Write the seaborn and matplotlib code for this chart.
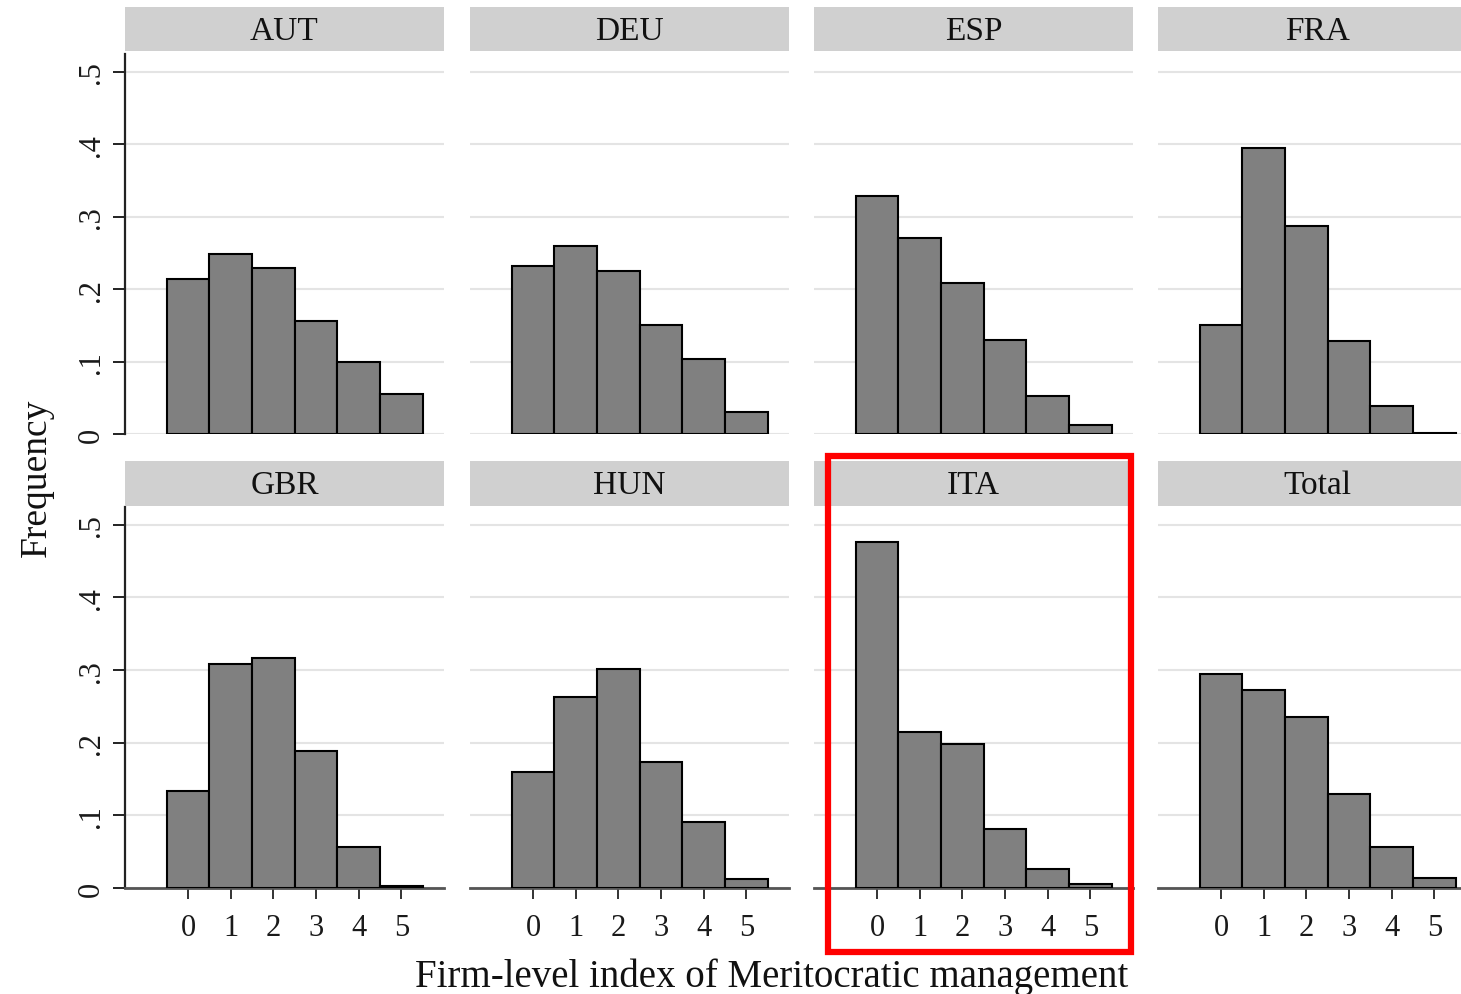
import matplotlib
matplotlib.use("Agg")
import matplotlib.pyplot as plt
from matplotlib.patches import Rectangle
import seaborn as sns

# Share of firms at each value of the meritocratic-management index
countries = ["AUT", "DEU", "ESP", "FRA", "GBR", "HUN", "ITA", "Total"]
index_values = [0, 1, 2, 3, 4, 5]
aut = [0.214, 0.248, 0.229, 0.156, 0.100, 0.055]
deu = [0.232, 0.260, 0.225, 0.150, 0.103, 0.030]
esp = [0.328, 0.270, 0.208, 0.130, 0.053, 0.013]
fra = [0.150, 0.395, 0.287, 0.129, 0.038, 0.002]
gbr = [0.133, 0.308, 0.316, 0.188, 0.057, 0.003]
hun = [0.160, 0.263, 0.301, 0.174, 0.091, 0.012]
ita = [0.477, 0.215, 0.198, 0.081, 0.026, 0.006]
total = [0.295, 0.273, 0.236, 0.130, 0.057, 0.014]
y_ticks = [0, 0.1, 0.2, 0.3, 0.4, 0.5]
y_tick_labels = ["0", ".1", ".2", ".3", ".4", ".5"]

series = [aut, deu, esp, fra, gbr, hun, ita, total]

sns.set_theme(style="white")
plt.rcParams["font.family"] = ["Liberation Serif", "DejaVu Serif"]

W, H = 1461, 995
fig = plt.figure(figsize=(W / 100, H / 100), dpi=100)
fig.patch.set_facecolor("white")

def fx(px):
    return px / W

def fy(py):
    return 1 - py / H

col_left = [125, 470, 814, 1158]
panel_w = 319
rows = [(55, 435, 8, 52), (508, 889, 462, 507)]  # axes top/bottom, strip top/bottom

for i, (name, vals) in enumerate(zip(countries, series)):
    r, c = divmod(i, 4)
    a_top, a_bot, s_top, s_bot = rows[r]
    left = col_left[c]
    ax = fig.add_axes([fx(left), fy(a_bot), panel_w / W, (a_bot - a_top) / H])
    sns.histplot(x=index_values, weights=vals, discrete=True, stat="count",
                 color="#808080", alpha=1.0, edgecolor="black", linewidth=1.5,
                 ax=ax, zorder=3)
    ax.set_xlim(-1.48, 6.0)
    ax.set_ylim(0, 0.5245)
    ax.set_xlabel("")
    ax.set_ylabel("")
    ax.set_yticks(y_ticks)
    ax.yaxis.grid(True, color="#e4e4e4", linewidth=1.5, zorder=0)
    ax.xaxis.grid(False)
    ax.set_axisbelow(True)
    for s in ["top", "right"]:
        ax.spines[s].set_visible(False)

    if c == 0:
        ax.spines["left"].set_visible(True)
        ax.spines["left"].set_color("#222222")
        ax.spines["left"].set_linewidth(1.6)
        ax.set_yticklabels(y_tick_labels, rotation=90, va="center", fontsize=22)
        ax.tick_params(axis="y", left=True, length=9, width=1.4, color="#222222",
                       pad=5, labelcolor="#1a1a1a")
    else:
        ax.spines["left"].set_visible(False)
        ax.tick_params(axis="y", left=False, labelleft=False)

    if r == 1:
        ax.spines["bottom"].set_visible(True)
        ax.spines["bottom"].set_color("#555555")
        ax.spines["bottom"].set_linewidth(2.0)
        ax.set_xticks(index_values)
        ax.set_xticklabels([str(v) for v in index_values], fontsize=22)
        ax.tick_params(axis="x", bottom=True, length=8, width=1.4, color="#333333",
                       pad=10, labelcolor="#1a1a1a")
    else:
        ax.spines["bottom"].set_visible(False)
        ax.tick_params(axis="x", bottom=False, labelbottom=False)

    # panel header strip
    sax = fig.add_axes([fx(left), fy(s_bot), panel_w / W, (s_bot - s_top) / H])
    sax.set_facecolor("#d0d0d0")
    for s in sax.spines.values():
        s.set_visible(False)
    sax.set_xticks([])
    sax.set_yticks([])
    sax.text(0.5, 0.47, name, transform=sax.transAxes, ha="center", va="center",
             fontsize=24, color="#111111")

fig.text(fx(37), fy(478), "Frequency", rotation=90, ha="center", va="center",
         fontsize=27, color="#111111")
fig.text(fx(772), fy(977), "Firm-level index of Meritocratic management",
         ha="center", va="center", fontsize=28, color="#111111")

# highlight frame around the ITA panel
fig.patches.append(Rectangle((fx(828), fy(953)), (1131 - 828) / W, (953 - 457) / H,
                             transform=fig.transFigure, fill=False,
                             edgecolor="#ff0000", linewidth=4.5, zorder=10))

fig.savefig("out.png", dpi=100)
